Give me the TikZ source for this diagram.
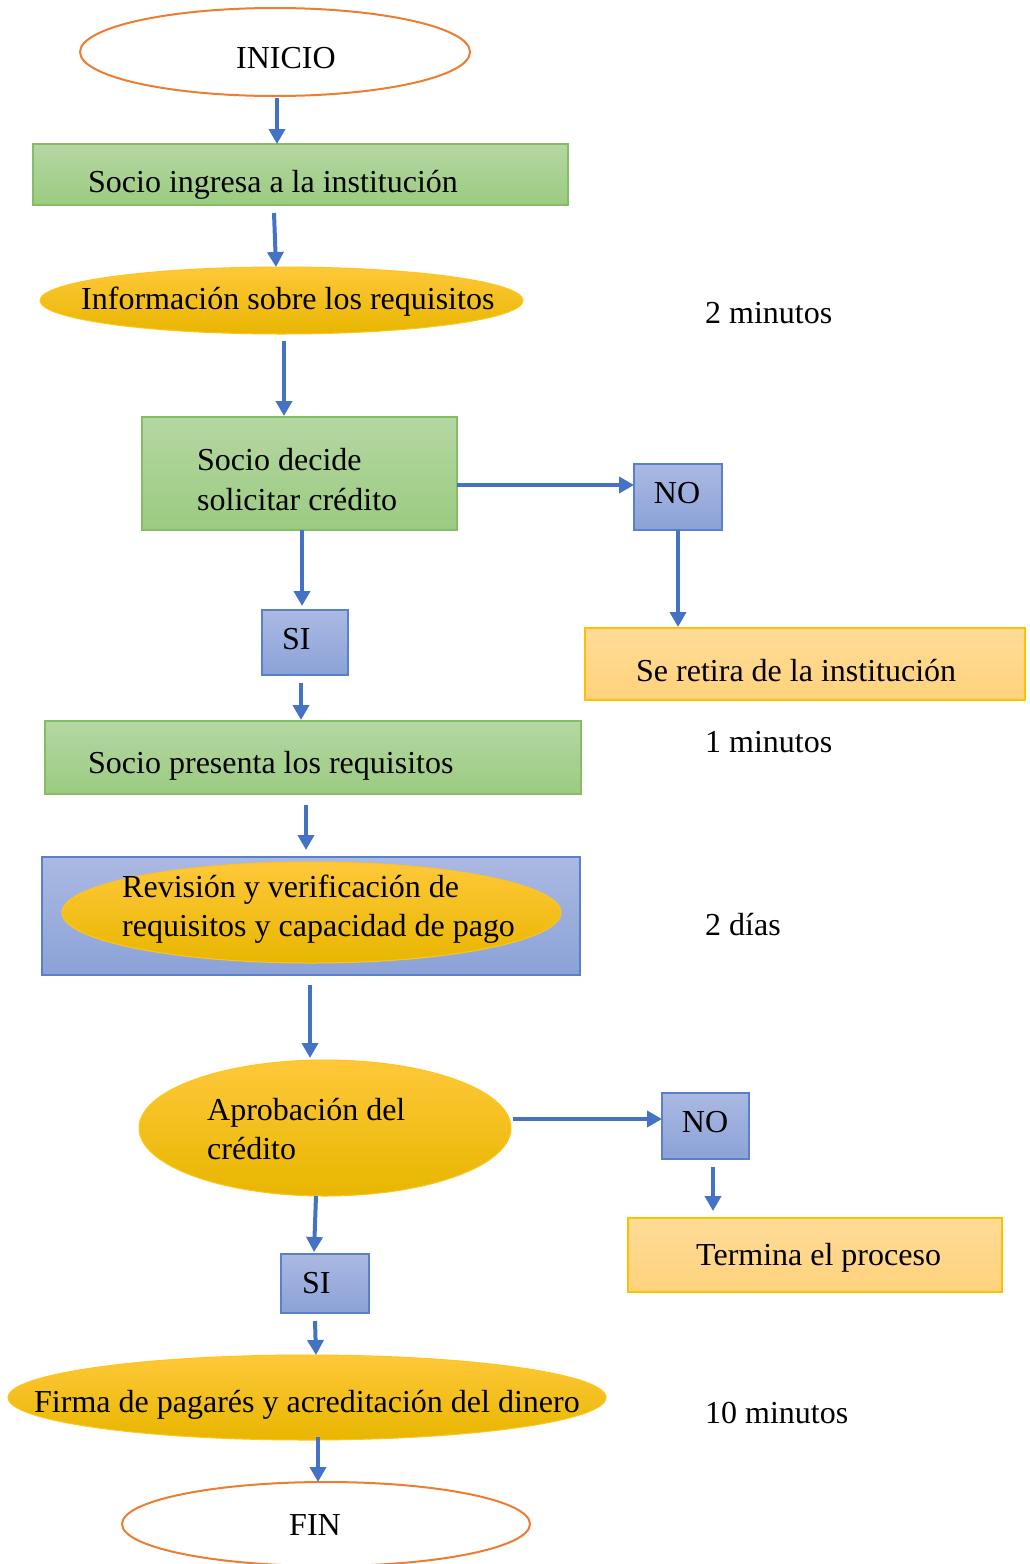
\documentclass[tikz,border=0pt]{standalone}
\usepackage{fontspec}
\setmainfont{Liberation Serif}
\usetikzlibrary{arrows.meta,shapes.geometric,calc}
\definecolor{orng}{HTML}{ED7D31}
\definecolor{arrblue}{HTML}{4472C4}
\definecolor{grtop}{HTML}{B5D7A3}
\definecolor{grbot}{HTML}{9BCB80}
\definecolor{grline}{HTML}{84BD65}
\definecolor{bltop}{HTML}{AAB9E2}
\definecolor{blbot}{HTML}{8BA2D8}
\definecolor{blline}{HTML}{5A80CC}
\definecolor{gdtop}{HTML}{FFC83A}
\definecolor{gdmid}{HTML}{FFC000}
\definecolor{gdbot}{HTML}{E8B600}
\definecolor{gdline}{HTML}{FFC61A}
\definecolor{lotop}{HTML}{FFDC98}
\definecolor{lobot}{HTML}{FFD27C}
\definecolor{loline}{HTML}{FFC000}
\tikzset{
  shp/.style={inner sep=0pt, outer sep=0pt},
  termel/.style={shp, ellipse, draw=orng, line width=2pt, fill=white},
  greenbox/.style={shp, rectangle, draw=grline, line width=1.5pt, top color=grtop, bottom color=grbot},
  bluebox/.style={shp, rectangle, draw=blline, line width=1.5pt, top color=bltop, bottom color=blbot},
  goldel/.style={shp, ellipse, draw=gdline, line width=1pt, top color=gdtop, middle color=gdmid, bottom color=gdbot},
  orbox/.style={shp, rectangle, draw=loline, line width=1.5pt, top color=lotop, bottom color=lobot},
  txt/.style={inner sep=0pt, anchor=base west, font=\fontsize{32}{39}\selectfont},
  ctxt/.style={inner sep=0pt, anchor=base, font=\fontsize{32}{39}\selectfont},
  arr/.style={draw=arrblue, line width=4pt, -{Triangle[width=16pt,length=15pt]}}
}
\begin{document}
\begin{tikzpicture}[x=1pt,y=-1pt]
\clip (0,0) rectangle (1029,1564);
\fill[white] (0,0) rectangle (1029,1564);
% shapes
\node[termel, minimum width=390pt, minimum height=88pt] (inicio) at (275,52) {};
\node[greenbox, minimum width=535pt, minimum height=61pt] (b1) at (300.5,174.5) {};
\node[goldel, minimum width=483pt, minimum height=67pt] (info) at (281.5,300.5) {};
\node[greenbox, minimum width=315pt, minimum height=113pt] (b2) at (299.5,473.5) {};
\node[bluebox, minimum width=88pt, minimum height=66pt] (no1) at (678,497) {};
\node[orbox, minimum width=440pt, minimum height=72pt] (ret) at (805,664) {};
\node[bluebox, minimum width=86pt, minimum height=65pt] (si1) at (305,642.5) {};
\node[greenbox, minimum width=536pt, minimum height=73pt] (b3) at (313,757.5) {};
\node[bluebox, minimum width=538pt, minimum height=118pt] (rev) at (311,916) {};
\node[goldel, minimum width=499pt, minimum height=101pt] (revel) at (311.5,912.5) {};
\node[goldel, minimum width=372pt, minimum height=136pt] (apr) at (325,1128) {};
\node[bluebox, minimum width=87pt, minimum height=66pt] (no2) at (705.5,1126) {};
\node[orbox, minimum width=374pt, minimum height=74pt] (term) at (815,1255) {};
\node[bluebox, minimum width=88pt, minimum height=59pt] (si2) at (325,1283.5) {};
\node[goldel, minimum width=598pt, minimum height=85pt] (firma) at (307,1397.5) {};
\node[termel, minimum width=408pt, minimum height=84pt] (fin) at (326,1524) {};
% texts
\node[ctxt] (tinicio) at (286,68) {INICIO};
\node[txt] (tb1) at (88,192) {Socio ingresa a la institución};
\node[txt] (tinfo) at (81,309) {Información sobre los requisitos};
\node[txt] (tm1) at (705,323) {2 minutos};
\node[txt] (tb2a) at (197,470) {Socio decide};
\node[txt] (tb2b) at (197,510) {solicitar crédito};
\node[ctxt] (tno1) at (677,503) {NO};
\node[txt] (tret) at (636,681) {Se retira de la institución};
\node[txt] (tsi1) at (282,649) {SI};
\node[txt] (tm2) at (705,752) {1 minutos};
\node[txt] (tb3) at (88,773) {Socio presenta los requisitos};
\node[txt] (treva) at (122,897) {Revisión y verificación de};
\node[txt] (trevb) at (122,936) {requisitos y capacidad de pago};
\node[txt] (tm3) at (705,935) {2 días};
\node[txt] (tapra) at (207,1120) {Aprobación del};
\node[txt] (taprb) at (207,1159) {crédito};
\node[ctxt] (tno2) at (705,1132) {NO};
\node[txt] (tterm) at (696,1265) {Termina el proceso};
\node[txt] (tsi2) at (302,1293) {SI};
\node[txt] (tfirma) at (34,1412) {Firma de pagarés y acreditación del dinero};
\node[txt] (tm4) at (705,1423) {10 minutos};
\node[ctxt] (tfin) at (315,1535) {FIN};
% connectors
\draw[arr] ([shift={(2,2)}]inicio.south) -- ([shift={(-23.5,0)}]b1.north);
\draw[arr] ([shift={(-26.5,8)}]b1.south) -- ([shift={(-5.5,0)}]info.north);
\draw[arr] ([shift={(2.5,7)}]info.south) -- ([shift={(-15.5,-1)}]b2.north);
\draw[arr] ([shift={(0,11.5)}]b2.east) -- ([shift={(0,-12)}]no1.west);
\draw[arr] (no1.south) -- ([shift={(-127,-1)}]ret.north);
\draw[arr] ([shift={(2.5,0)}]b2.south) -- ([shift={(-3,-4)}]si1.north);
\draw[arr] ([shift={(-4,8)}]si1.south) -- ([shift={(-12,-1)}]b3.north);
\draw[arr] ([shift={(-7,11)}]b3.south) -- ([shift={(-5,-7)}]rev.north);
\draw[arr] ([shift={(-1,10)}]rev.south) -- ([shift={(-15,-2)}]apr.north);
\draw[arr] ([shift={(2,-9)}]apr.east) -- ([shift={(0,-7)}]no2.west);
\draw[arr] ([shift={(7.5,8)}]no2.south) -- ([shift={(-102,-7)}]term.north);
\draw[arr] ([shift={(-9,0)}]apr.south) -- ([shift={(-11,-2)}]si2.north);
\draw[arr] ([shift={(-10,8)}]si2.south) -- ([shift={(9,0)}]firma.north);
\draw[arr] ([shift={(11,-3)}]firma.south) -- ([shift={(-8,0)}]fin.north);
\end{tikzpicture}
\end{document}
